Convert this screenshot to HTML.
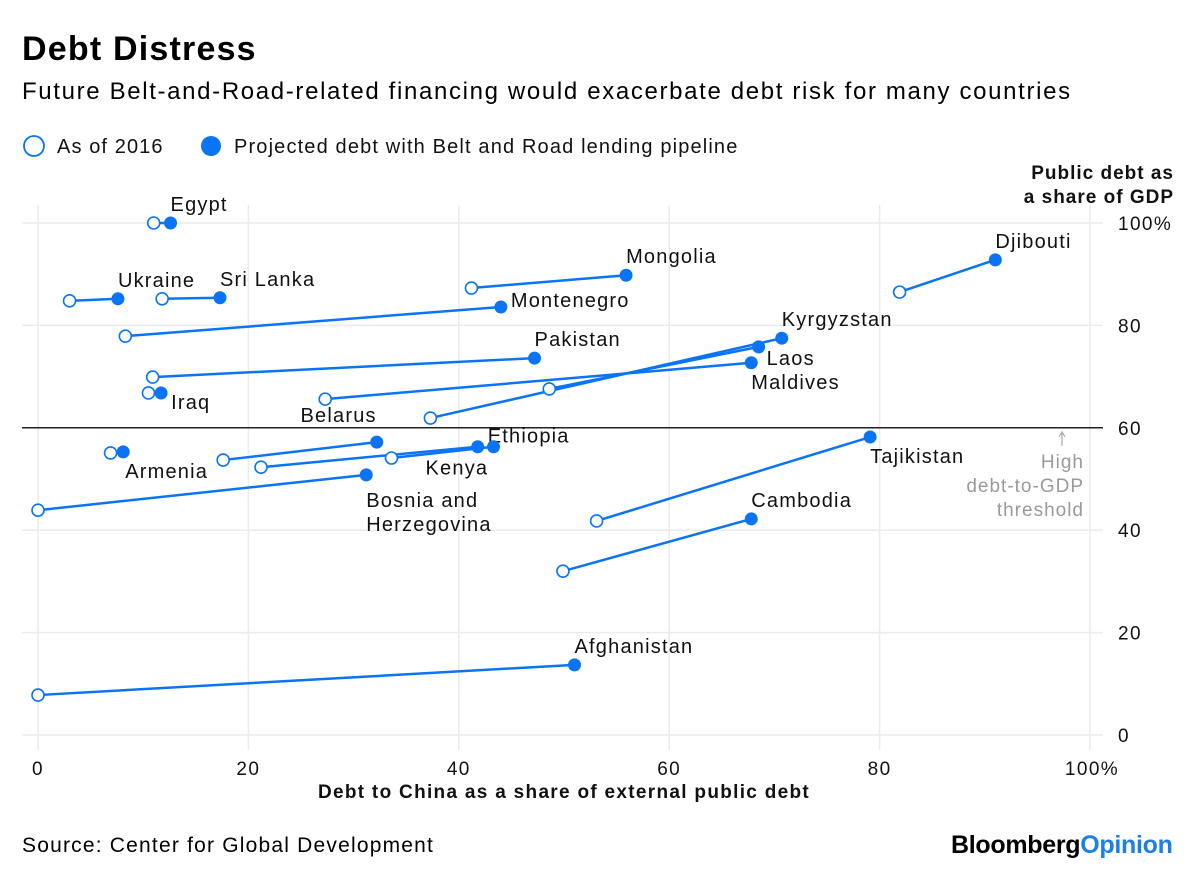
<!DOCTYPE html>
<html><head><meta charset="utf-8">
<style>
body{margin:0;background:#fff;font-family:"Liberation Sans",sans-serif;}
#wrap{position:relative;width:1200px;height:874px;overflow:hidden;}
.t{position:absolute;white-space:nowrap;}
</style></head>
<body>
<div id="wrap">
<div class="t" style="left:22px;top:30px;font-size:34px;font-weight:bold;letter-spacing:1.2px;">Debt Distress</div>
<div class="t" style="left:22px;top:78px;font-size:24px;letter-spacing:1.65px;">Future Belt-and-Road-related financing would exacerbate debt risk for many countries</div>
<svg id="chart" width="1200" height="874" style="position:absolute;left:0;top:0;"></svg>
<div class="t" style="left:22px;top:834px;font-size:21px;letter-spacing:1.2px;">Source: Center for Global Development</div>
<div class="t" style="left:951px;top:831px;font-size:25px;font-weight:bold;letter-spacing:-0.3px;">Bloomberg<span style="color:#1c7ee8">Opinion</span></div>
</div>
<script>
const countries=["Egypt","Ukraine","Sri Lanka","Mongolia","Djibouti","Montenegro","Pakistan","Kyrgyzstan","Laos","Maldives","Iraq","Belarus","Armenia","Ethiopia","Kenya","Bosnia and Herzegovina","Tajikistan","Cambodia","Afghanistan"];
const chinaShare2016=[11.0,3.0,11.8,41.2,81.9,8.3,10.9,37.3,48.6,27.3,10.5,17.6,6.9,21.2,33.6,0,53.1,49.9,0];
const debtGdp2016=[100,84.8,85.2,87.3,86.5,77.9,69.9,61.9,67.6,65.6,66.8,53.7,55.1,52.3,54.1,43.9,41.8,32.0,7.8];
const chinaShareProj=[12.6,7.6,17.3,55.9,91.0,44.0,47.2,70.7,68.5,67.8,11.7,32.2,8.1,41.8,43.3,31.2,79.1,67.8,51.0];
const debtGdpProj=[100,85.2,85.4,89.8,92.8,83.6,73.6,77.5,75.8,72.7,66.8,57.2,55.3,56.3,56.3,50.8,58.2,42.2,13.7];
const xTicks=[0,20,40,60,80,100];
const yTicks=[0,20,40,60,80,100];
const threshold=60;
// label offsets relative to projected point (layout only)
const labelDx=[0,0,0,0,0,10,0,0,8,0,10,0,2,10,-68,0,0,0,0];
const labelDy=[-12,-12,-12,-12,-12,0,-12,-12,18,26,16,-20,26,-4,28,56,26,-12,-12];
const labelAnchor=["start","start","start","start","start","start","start","start","start","start","start","end","start","start","start","start","start","start","start"];

const X=v=>38+10.52*v;
const Y=v=>735-5.12*v;
const svg=document.getElementById('chart');
const NS="http://www.w3.org/2000/svg";
function mk(tag,attrs,parent){const e=document.createElementNS(NS,tag);for(const k in attrs)e.setAttribute(k,attrs[k]);(parent||svg).appendChild(e);return e;}
const BLUE="#0a74f5";
const LS='1.4px';

xTicks.forEach(t=>{
 const l=mk('line',{x1:X(t),x2:X(t),y1:205,y2:750,stroke:'#ebebeb','stroke-width':1.5});
 
 
 const tx=mk('text',{x:X(t)+(t==100?2:0),y:775,'text-anchor':'middle','font-size':19,fill:'#111','letter-spacing':LS});
 tx.textContent=t==100?'100%':t;
 
 
});
yTicks.forEach(t=>{
 if(t!=threshold){const l=mk('line',{x1:22,x2:1103,y1:Y(t),y2:Y(t),stroke:'#ebebeb','stroke-width':1.5});
 
 }
 const tx=mk('text',{x:1118,y:Y(t)+7,'font-size':19,fill:'#111','letter-spacing':LS});
 tx.textContent=t==100?'100%':t;
 
 
});
const th=mk('line',{x1:22,x2:1103,y1:Y(threshold),y2:Y(threshold),stroke:'#222','stroke-width':1.5});


const ar=mk('path',{d:`M1062 ${Y(threshold)+18} V${Y(threshold)+5} M1059 ${Y(threshold)+9} L1062 ${Y(threshold)+4} L1065 ${Y(threshold)+9}`,stroke:'#aaa',fill:'none','stroke-width':1.2});


['High','debt-to-GDP','threshold'].forEach((s,i)=>{
 const t=mk('text',{x:1084,y:Y(threshold)+40+i*24,'text-anchor':'end','font-size':19,fill:'#9a9a9a','letter-spacing':'1px'});t.textContent=s;
 
 
});
const ax=mk('text',{x:564,y:798,'text-anchor':'middle','font-size':19,'font-weight':'bold',fill:'#111','letter-spacing':'1.3px'});ax.textContent='Debt to China as a share of external public debt';


['Public debt as','a share of GDP'].forEach((s,i)=>{
 const t=mk('text',{x:1174,y:179+i*24,'text-anchor':'end','font-size':19,'font-weight':'bold',fill:'#111','letter-spacing':'1px'});t.textContent=s;
 
 
});
// legend
const lo=mk('circle',{cx:34,cy:146,r:10,fill:'#fff',stroke:BLUE,'stroke-width':1.8});


const lt=mk('text',{x:57,y:153,'font-size':20,fill:'#111','letter-spacing':'1.1px'});lt.textContent='As of 2016';


const lf=mk('circle',{cx:211,cy:146,r:10,fill:BLUE});


const lt2=mk('text',{x:234,y:153,'font-size':20,fill:'#111','letter-spacing':'1.15px'});lt2.textContent='Projected debt with Belt and Road lending pipeline';



countries.forEach((c,i)=>{
 const x1=X(chinaShare2016[i]),y1=Y(debtGdp2016[i]),x2=X(chinaShareProj[i]),y2=Y(debtGdpProj[i]);
 const ln=mk('line',{x1,y1,x2,y2,stroke:BLUE,'stroke-width':2.5});
 
 
 const o=mk('circle',{cx:x1,cy:y1,r:6,fill:'#fff',stroke:BLUE,'stroke-width':1.6});
 
 
 const f=mk('circle',{cx:x2,cy:y2,r:6.5,fill:BLUE});
 
 
 const parts=c=="Bosnia and Herzegovina"?["Bosnia and","Herzegovina"]:[c];
 parts.forEach((p,j)=>{
  const t=mk('text',{x:x2+labelDx[i],y:y2+labelDy[i]+j*24-(parts.length>1?24:0),'text-anchor':labelAnchor[i],'font-size':20,fill:'#111','letter-spacing':'1.2px'});
  t.textContent=p;
  
  
 });
});
</script>
</body></html>
